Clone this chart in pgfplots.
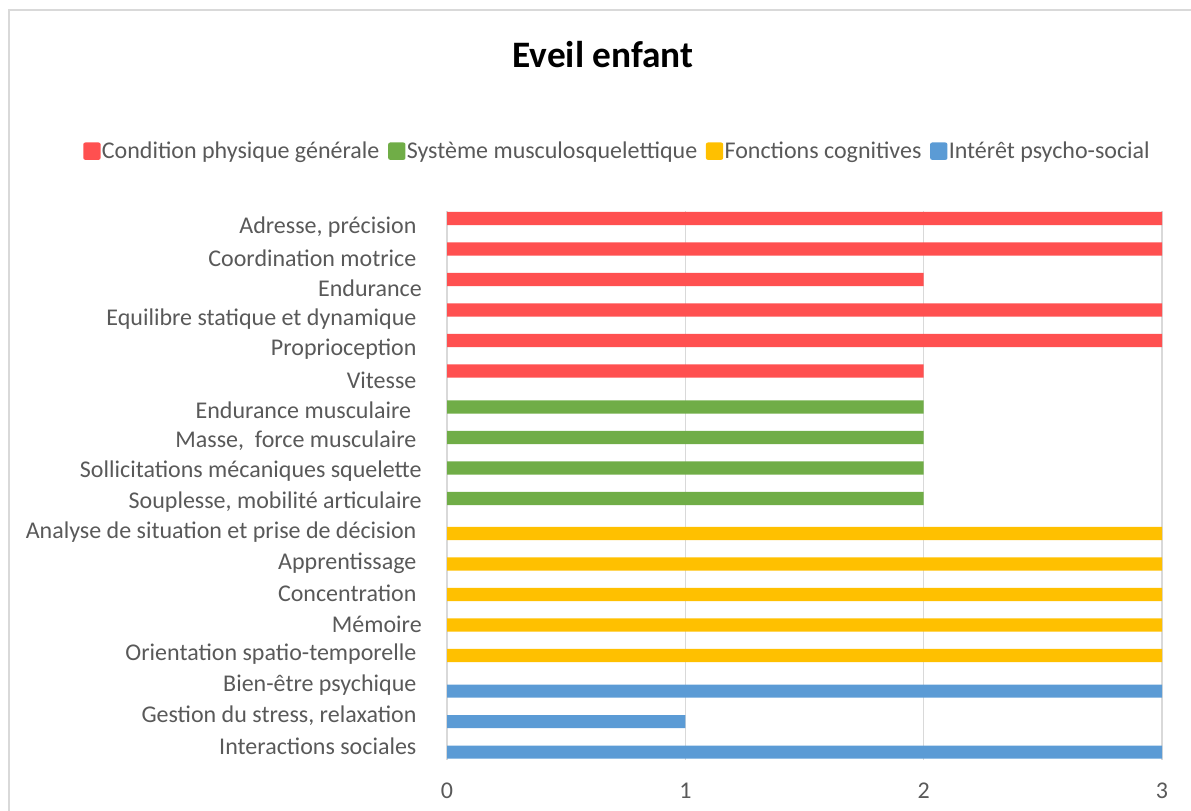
\documentclass[border=0pt]{standalone}
\usepackage{pgfplots}
\pgfplotsset{compat=1.18}
\usepackage{fontspec}
\setmainfont{Carlito}
\definecolor{redc}{HTML}{FF5050}
\definecolor{greenc}{HTML}{70AD47}
\definecolor{yellowc}{HTML}{FFC000}
\definecolor{bluec}{HTML}{5B9BD5}
\definecolor{txt}{HTML}{595959}
\definecolor{gridc}{HTML}{D9D9D9}
\newcommand{\tsp}{\kern4pt}
\begin{document}
\begin{tikzpicture}
\path[use as bounding box] (0,0) rectangle (893.25pt,607.5pt);
\draw[gridc, line width=1.5pt] (6.75pt,-10pt) -- (6.75pt,600pt) -- (900pt,600pt);
\node[font=\fontsize{28}{32}\selectfont\bfseries, text=black] at (452.25pt,566.25pt) {Eveil enfant};
\begin{axis}[
  at={(335.25pt,37.5pt)}, anchor=south west,
  scale only axis, width=536.25pt, height=411.75pt,
  xmin=0, xmax=3, ymin=-0.5, ymax=17.5,
  y dir=reverse,
  xtick={0,1,2,3},
  ytick={0,...,17},
  yticklabels={{Adresse, précision\tsp},{Coordination motrice\tsp},{Endurance},{Equilibre statique et dynamique\tsp},{Proprioception\tsp},{Vitesse\tsp},{Endurance musculaire\tsp\tsp},{Masse,\ \ force musculaire\tsp},{Sollicitations mécaniques squelette},{Souplesse, mobilité articulaire},{Analyse de situation et prise de décision\tsp},{Apprentissage\tsp},{Concentration\tsp},{Mémoire},{Orientation spatio-temporelle\tsp},{Bien-être psychique\tsp},{Gestion du stress, relaxation\tsp},{Interactions sociales\tsp}},
  major tick length=0pt,
  axis line style={draw=none},
  xmajorgrids, major grid style={gridc, line width=1pt},
  tick label style={font=\fontsize{18}{21}\selectfont, text=txt},
  /pgf/number format/assume math mode=true,
  xticklabel style={anchor=north, inner sep=0pt, yshift=-17.25pt},
  yticklabel style={anchor=east, inner sep=0pt, xshift=-18.75pt, yshift=-1pt},
  legend columns=4,
  legend style={draw=none, fill=none, at={(0.238,1.109)}, anchor=center,
    font=\fontsize{18}{21}\selectfont, text=txt,
    nodes={inner sep=1pt},
    /tikz/every even column/.append style={column sep=5.5pt}},
  legend cell align=left,
]
\addplot[xbar, bar width=0.43, bar shift=-0.255, fill=redc, draw=none,
  legend image code/.code={\fill[redc, rounded corners=1.5pt] (0pt,-6.5pt) rectangle (13pt,6.5pt);}]
  coordinates {(3,0) (3,1) (2,2) (3,3) (3,4) (2,5)};
\addlegendentry{Condition physique générale}
\addplot[xbar, bar width=0.43, bar shift=-0.075, fill=greenc, draw=none,
  legend image code/.code={\fill[greenc, rounded corners=1.5pt] (0pt,-6.5pt) rectangle (13pt,6.5pt);}]
  coordinates {(2,6) (2,7) (2,8) (2,9)};
\addlegendentry{Système musculosquelettique}
\addplot[xbar, bar width=0.43, bar shift=0.075, fill=yellowc, draw=none,
  legend image code/.code={\fill[yellowc, rounded corners=1.5pt] (0pt,-6.5pt) rectangle (13pt,6.5pt);}]
  coordinates {(3,10) (3,11) (3,12) (3,13) (3,14)};
\addlegendentry{Fonctions cognitives}
\addplot[xbar, bar width=0.43, bar shift=0.24, fill=bluec, draw=none,
  legend image code/.code={\fill[bluec, rounded corners=1.5pt] (0pt,-6.5pt) rectangle (13pt,6.5pt);}]
  coordinates {(3,15) (1,16) (3,17)};
\addlegendentry{Intérêt psycho-social}
\end{axis}
\end{tikzpicture}
\end{document}
